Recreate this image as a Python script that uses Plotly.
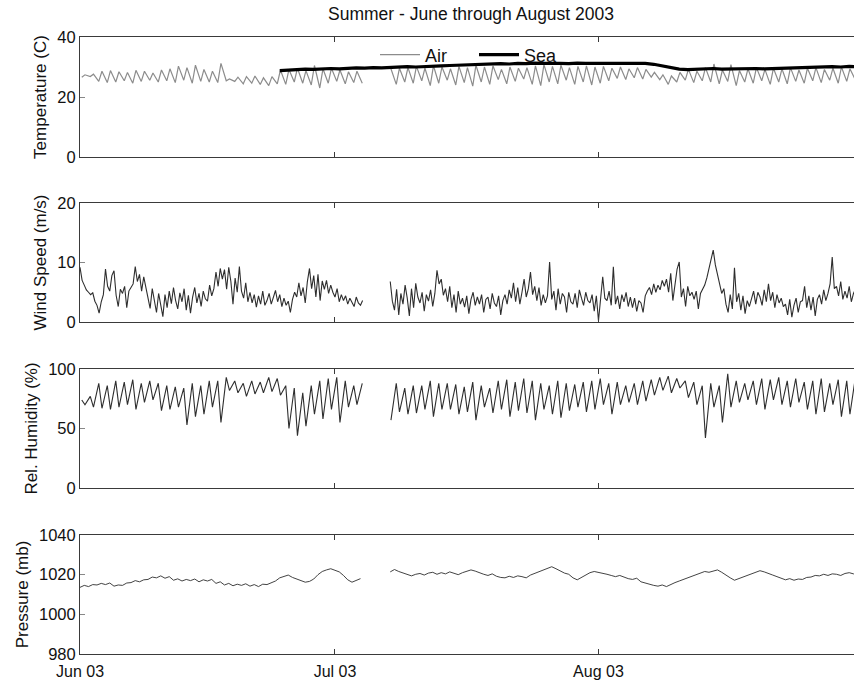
import pandas as pd
import plotly.graph_objects as go

# ---------------- data ----------------
# Daily air temperature extremes (C), Jun 1 .. Aug 31 2003 (None = no record)
air_low = [26.6, 26.8, 25.2, 24.8, 25.0, 25.4, 24.6, 25.2, 25.6, 25.0,
           25.4, 24.8, 25.6, 24.6, 25.2, 25.0, 24.8, 25.4, 25.2, 24.4,
           24.6, 24.2, 23.8, 24.4, 24.2, 25.0, 24.6, 24.0, 23.0, 24.6,
           25.2, 24.4, 24.8, 24.6, None, None, None, 24.2, 25.0, 24.6,
           25.4, 23.8, 24.6, 25.6, 24.0, 24.8, 23.6, 25.0, 24.2, 25.8,
           24.4, 25.2, 26.0, 24.2, 23.8, 25.0, 24.4, 25.6, 24.2, 25.0,
           24.0, 24.6, 25.4, 26.2, 25.8, 26.4, 26.0, 26.6, 25.8, 24.2,
           25.0, 25.6, 24.8, 25.4, 25.0, 24.4, 25.2, 23.8, 25.0, 24.6,
           25.4, 24.2, 25.0, 24.4, 25.2, 24.6, 25.4, 24.8, 25.6, 24.6,
           25.2, 25.8]
air_high = [27.4, 27.6, 28.6, 28.8, 28.4, 28.2, 28.9, 28.6, 28.0, 29.0,
            29.4, 30.3, 29.8, 30.6, 29.2, 28.6, 31.2, 26.0, 26.6, 26.8,
            27.0, 26.4, 26.8, 29.0, 29.2, 29.6, 28.8, 30.5, 29.4, 29.6,
            29.0, 28.4, 28.6, None, None, None, 29.4, 29.6, 29.8, 30.2,
            29.6, 30.4, 30.0, 29.4, 30.2, 29.8, 30.6, 30.0, 30.4, 29.2,
            30.0, 29.6, 29.8, 30.4, 30.8, 30.2, 30.6, 29.8, 30.2, 30.4,
            30.0, 30.2, 29.6, 30.0, 29.4, 29.8, 29.2, 28.2, 27.4, 27.0,
            28.2, 29.2, 28.6, 29.8, 31.0, 29.0, 30.8, 28.8, 29.4, 29.8,
            29.2, 29.6, 29.4, 29.8, 29.0, 29.6, 29.8, 29.2, 29.6, 30.0,
            29.4, 29.8]

# Daily sea temperature (C), from Jun 24 onward
sea_temp = [28.8, 29.0, 29.1, 29.3, 29.2, 29.4, 29.5, 29.4, 29.6, 29.7,
            29.6, 29.8, 29.7, 29.9, 30.0, 30.1, 30.0, 30.2, 30.3, 30.4,
            30.5, 30.6, 30.8, 30.7, 30.9, 31.0, 31.1, 31.0, 31.2, 31.1,
            31.3, 31.2, 31.3, 31.2, 31.1, 31.3, 31.2, 31.2, 31.3, 31.2,
            31.4, 31.3, 31.3, 31.2, 30.9, 30.3, 29.7, 29.3, 29.1, 29.2,
            29.3, 29.5, 29.3, 29.4, 29.3, 29.4, 29.5, 29.4, 29.5, 29.6,
            29.5, 29.7, 29.8, 29.9, 30.0, 30.1, 30.0, 30.2, 30.1]

# Wind speed (m/s), four readings per day
wind_speed = [
    9.2, 7.0, 6.2, 5.4,  5.0, 4.6, 4.9, 3.5,  2.8, 1.5, 3.4, 4.6,  8.9, 6.0, 5.2, 7.8,
    8.6, 4.5, 2.6, 5.5,  4.8, 6.0, 2.4, 5.2,  5.8, 6.4, 9.3, 6.8,  8.0, 5.2, 7.6, 6.0,
    4.2, 2.3, 5.6, 3.4,  1.6, 4.8, 3.0, 0.9,  4.6, 2.4, 5.2, 3.1,  5.8, 3.6, 2.2, 4.9,
    3.4, 5.6, 2.0, 4.5,  1.5, 4.2, 5.8, 3.2,  4.8, 2.6, 5.2, 3.9,  3.5, 6.2, 4.4, 5.6,
    8.4, 6.0, 9.0, 7.2,  8.8, 5.5, 9.2, 6.8,  3.0, 7.4, 5.0, 9.3,  5.2, 4.0, 6.6, 3.4,
    5.0, 3.2, 4.6, 2.5,  4.4, 3.0, 5.2, 2.8,  3.6, 4.8, 3.0, 4.2,  5.3, 3.4, 4.6, 2.6,
    4.0, 2.8, 3.5, 1.6,  3.8, 5.0, 4.2, 6.6,  4.4, 5.8, 3.2, 6.8,  9.0, 5.6, 7.8, 4.2,
    8.0, 3.6, 6.9, 5.5,  7.0, 4.8, 6.2, 5.0,  4.2, 5.6, 3.4, 4.6,  3.6, 4.4, 3.0, 4.0,
    3.4, 2.6, 4.2, 3.2,  2.8, 3.6, None, None,  None, None, None, None,  None, None, None, None,
    None, None, 6.8, 3.5,  2.0, 5.5, 1.2, 4.8,  3.0, 6.2, 4.0, 1.0,  5.6, 2.4, 6.5, 4.2,
    3.2, 5.0, 1.8, 4.6,  3.5, 5.4, 2.6, 4.8,  8.7, 6.4, 7.2, 4.5,  5.6, 3.4, 6.0, 2.4,
    4.6, 1.6, 5.2, 3.0,  4.0, 2.5, 4.4, 1.4,  3.8, 5.0, 2.8, 4.2,  3.0, 4.6, 1.6, 3.8,
    4.2, 2.2, 4.8, 3.2,  2.6, 4.4, 1.2, 3.6,  4.6, 3.0, 5.4, 4.0,  6.6, 3.4, 5.8, 3.0,
    5.0, 7.2, 4.2, 5.6,  8.4, 4.6, 6.0, 3.6,  5.8, 2.8, 4.6, 3.2,  4.4, 10.1, 3.8, 5.2,
    2.0, 5.6, 3.0, 4.8,  4.2, 1.6, 5.0, 3.4,  3.0, 4.8, 2.4, 5.4,  4.0, 2.8, 5.0, 3.6,
    3.2, 4.6, 1.8, 4.4,  0.2, 3.8, 7.6, 4.0,  3.6, 5.2, 2.8, 9.3,  3.0, 4.4, 2.2, 4.6,
    3.4, 5.0, 2.6, 4.2,  2.4, 4.0, 1.8, 3.6,  3.2, 1.6, 4.4, 5.2,  5.8, 4.6, 6.4, 5.0,
    6.2, 5.4, 7.0, 6.0,  7.2, 5.0, 8.2, 3.6,  6.8, 8.9, 10.1, 4.2,  5.6, 2.6, 6.0, 4.4,
    5.0, 3.8, 5.2, 2.2,  4.8, 5.6, 6.2, 7.4,  9.0, 11.0, 12.1, 9.6,  8.0, 6.4, 4.8, 5.6,
    3.0, 1.6, 4.6, 2.2,  9.1, 3.4, 4.8, 2.0,  4.4, 1.4, 3.6, 2.6,  3.8, 5.2, 3.0, 5.0,
    4.2, 2.8, 5.4, 3.4,  6.4, 3.6, 5.0, 2.4,  4.6, 3.2, 4.0, 2.6,  3.0, 1.2, 3.8, 0.8,
    2.8, 4.0, 1.6, 3.4,  3.6, 6.0, 2.4, 4.4,  2.0, 4.2, 1.0, 3.8,  4.6, 3.0, 5.4, 3.6,
    4.8, 6.4, 10.9, 5.6,  6.0, 4.4, 6.8, 3.8,  5.2, 4.0, 6.0, 3.4,  4.8, 5.6, 5.0, 5.2,
]

# Daily relative humidity extremes (%)
rh_high = [74, 77, 88, 86, 90, 89, 91, 88, 90, 88,
           86, 85, 84, 88, 86, 90, 90, 93, 90, 88,
           90, 89, 93, 92, 86, 84, 80, 86, 90, 92,
           93, 90, 86, 88, None, None, None, 88, 84, 86,
           86, 90, 88, 88, 87, 85, 89, 86, 84, 90,
           91, 89, 92, 90, 88, 86, 90, 88, 87, 89,
           90, 92, 88, 89, 86, 88, 90, 91, 93, 94,
           92, 90, 89, 86, 88, 86, 96, 90, 88, 90,
           92, 91, 93, 90, 92, 89, 90, 92, 88, 91,
           90, 92]
rh_low = [70, 68, 67, 66, 68, 70, 66, 72, 74, 65,
          66, 68, 53, 60, 62, 68, 55, 82, 80, 77,
          79, 80, 81, 78, 50, 44, 52, 62, 58, 66,
          55, 68, 70, None, None, None, 57, 64, 62, 63,
          66, 60, 66, 66, 62, 64, 57, 68, 63, 66,
          60, 65, 63, 57, 66, 62, 59, 65, 68, 64,
          66, 70, 62, 70, 72, 70, 73, 78, 82, 80,
          84, 76, 70, 42, 68, 55, 68, 72, 74, 70,
          66, 74, 70, 68, 72, 66, 62, 64, 70, 60,
          62, 53]

# Sea-level pressure (mb), two readings per day
pressure = [
    1013.6, 1014.6, 1014.0, 1015.0, 1014.8, 1015.6, 1015.0, 1015.8, 1014.2, 1014.8,
    1014.6, 1015.8, 1016.0, 1017.0, 1016.4, 1017.4, 1017.6, 1018.8, 1018.4, 1019.4,
    1018.2, 1019.0, 1017.2, 1017.9, 1016.8, 1017.6, 1017.0, 1017.8, 1016.4, 1017.4,
    1016.8, 1017.6, 1015.6, 1016.4, 1014.8, 1015.6, 1014.4, 1015.2, 1014.6, 1015.4,
    1014.2, 1015.0, 1014.0, 1015.2, 1015.0, 1016.0, 1016.8, 1018.4, 1019.0, 1019.8,
    1018.6, 1017.8, 1016.8, 1016.2, 1016.6, 1017.8, 1020.0, 1021.6, 1022.4, 1023.0,
    1022.2, 1021.4, 1019.6, 1017.4, 1016.2, 1017.2, 1018.0, None, None, None,
    None, None, None, 1021.4, 1022.6, 1021.6, 1020.8, 1020.0, 1019.4, 1020.2,
    1020.6, 1019.8, 1020.8, 1021.2, 1020.2, 1021.0, 1020.4, 1021.4, 1020.6, 1020.0,
    1021.0, 1021.8, 1022.4, 1021.8, 1020.8, 1020.2, 1019.6, 1020.4, 1019.2, 1018.6,
    1018.4, 1019.2, 1018.6, 1019.4, 1019.0, 1018.4, 1019.8, 1020.6, 1021.4, 1022.2,
    1023.2, 1024.0, 1023.0, 1021.8, 1020.8, 1020.2, 1018.4, 1017.4, 1018.6, 1019.8,
    1021.0, 1021.6, 1021.2, 1020.6, 1020.2, 1019.6, 1019.0, 1019.6, 1018.6, 1018.0,
    1017.6, 1018.2, 1016.4, 1015.8, 1015.0, 1014.6, 1014.2, 1014.8, 1014.0, 1015.2,
    1016.0, 1016.8, 1017.6, 1018.4, 1019.0, 1019.8, 1020.6, 1021.6, 1021.2, 1022.0,
    1022.4, 1021.2, 1019.6, 1018.4, 1017.2, 1018.0, 1018.8, 1019.8, 1020.6, 1021.4,
    1022.0, 1021.4, 1020.4, 1019.8, 1019.0, 1018.2, 1017.4, 1018.0, 1017.2, 1017.8,
    1017.6, 1018.6, 1018.8, 1019.6, 1019.4, 1020.2, 1019.6, 1020.4, 1020.2, 1019.6,
    1020.6, 1021.0, 1020.4, 1021.0,
]

month_ticks = ["2003-06-01", "2003-07-01", "2003-08-01"]
month_labels = ["Jun 03", "Jul 03", "Aug 03"]

# ---------------- time stamps ----------------
days = pd.date_range("2003-06-01", periods=92, freq="D")


def daily_pair(first, second, h1, h2):
    t, v = [], []
    for d, a, b in zip(days, first, second):
        t += [d + pd.Timedelta(hours=h1), d + pd.Timedelta(hours=h2)]
        v += [a, b]
    return t, v


air_t, air_v = daily_pair(air_low, air_high, 5, 14)
rh_t, rh_v = daily_pair(rh_high, rh_low, 5, 14)
sea_t = pd.date_range("2003-06-24 12:00", periods=len(sea_temp), freq="D")
wind_t = pd.date_range("2003-06-01", periods=len(wind_speed), freq="6h")
pres_t = pd.date_range("2003-06-01", periods=len(pressure), freq="12h")

# ---------------- figure ----------------
W, H = 854, 682
FONT = "Liberation Sans, Arial, sans-serif"
AX = "#3a3a3a"

fig = go.Figure()
fig.add_trace(go.Scatter(x=air_t, y=air_v, mode="lines", name="Air",
                         line=dict(color="#8c8c8c", width=1.2),
                         xaxis="x", yaxis="y"))
fig.add_trace(go.Scatter(x=sea_t, y=sea_temp, mode="lines", name="Sea",
                         line=dict(color="#000000", width=3.2),
                         xaxis="x", yaxis="y"))
fig.add_trace(go.Scatter(x=wind_t, y=wind_speed, mode="lines", showlegend=False,
                         line=dict(color="#2e2e2e", width=1.1),
                         xaxis="x2", yaxis="y2"))
fig.add_trace(go.Scatter(x=rh_t, y=rh_v, mode="lines", showlegend=False,
                         line=dict(color="#2e2e2e", width=1.1),
                         xaxis="x3", yaxis="y3"))
fig.add_trace(go.Scatter(x=pres_t, y=pressure, mode="lines", showlegend=False,
                         line=dict(color="#2e2e2e", width=0.9),
                         xaxis="x4", yaxis="y4"))

x_range = ["2003-06-01 00:00", "2003-08-31 01:30"]
panels = [  # (top px, bottom px, y range, tick values, title)
    (37, 157, [0, 40], [0, 20, 40], "Temperature (C)"),
    (203, 322, [0, 20], [0, 10, 20], "Wind Speed (m/s)"),
    (369, 488, [0, 100], [0, 50, 100], "Rel. Humidity (%)"),
    (535, 654, [980, 1040], [980, 1000, 1020, 1040], "Pressure (mb)"),
]

layout = dict(
    width=W, height=H, margin=dict(l=0, r=0, t=0, b=0, autoexpand=False),
    paper_bgcolor="white", plot_bgcolor="white",
    font=dict(family=FONT, size=16, color="#111111"),
    showlegend=True,
    legend=dict(orientation="h", x=375 / W, y=1 - 55 / H, xanchor="left",
                yanchor="middle", bgcolor="rgba(0,0,0,0)",
                font=dict(size=18), itemwidth=40, tracegroupgap=0,
                entrywidth=44, entrywidthmode="pixels"),
    annotations=[dict(text="Summer - June through August 2003", x=471 / W,
                      y=1 - 14 / H, xref="paper", yref="paper", showarrow=False,
                      xanchor="center", yanchor="middle", font=dict(size=17.5))],
)

for i, (top, bot, yr, tv, title) in enumerate(panels, start=1):
    sx = "" if i == 1 else str(i)
    layout["xaxis" + sx] = dict(
        domain=[80 / W, 1], range=x_range, anchor="y" + sx, type="date",
        tickvals=month_ticks, ticktext=month_labels, automargin=False,
        showticklabels=(i == 4), ticks="inside", ticklen=5, tickcolor=AX,
        showline=True, linecolor=AX, linewidth=1, mirror="ticks",
        showgrid=False, zeroline=False, tickfont=dict(size=16),
        ticklabelstandoff=3,
    )
    layout["yaxis" + sx] = dict(
        domain=[1 - bot / H, 1 - top / H], range=yr, anchor="x" + sx,
        tickvals=tv, ticks="inside", ticklen=5, tickcolor="#888888",
        showline=True, linecolor=AX, linewidth=1, mirror=False, automargin=False,
        showgrid=False, zeroline=False, tickfont=dict(size=16.5),
        title=dict(text=title, font=dict(size=17), standoff=6),
    )

fig.update_layout(**layout)
fig.write_html("out.html")
